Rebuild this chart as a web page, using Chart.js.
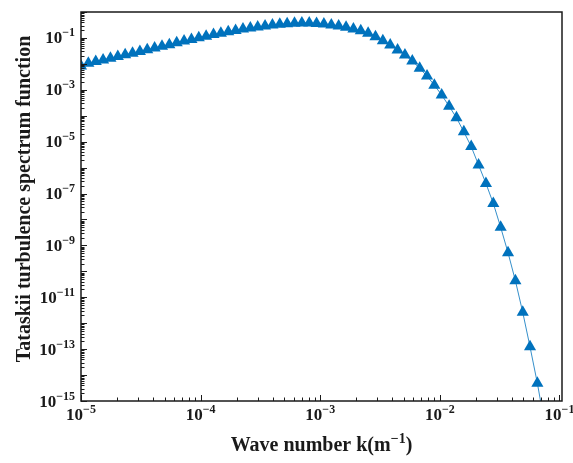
<!DOCTYPE html>
<html>
<head>
<meta charset="utf-8">
<script src="https://cdn.jsdelivr.net/npm/chart.js@4.4.1/dist/chart.umd.min.js"></script>
<style>
  html, body { margin: 0; padding: 0; background: #fff; }
</style>
</head>
<body>
<canvas id="spectrumChart" width="573" height="463"></canvas>
<script>
// wave number k (1/m) (evenly spaced on the log axis)
const waveNumber = [
  1.000e-5, 1.152e-5, 1.328e-5, 1.530e-5, 1.763e-5, 2.031e-5, 2.340e-5, 2.697e-5,
  3.107e-5, 3.580e-5, 4.125e-5, 4.754e-5, 5.477e-5, 6.311e-5, 7.272e-5, 8.380e-5,
  9.652e-5, 1.112e-4, 1.282e-4, 1.477e-4, 1.702e-4, 1.961e-4, 2.260e-4, 2.604e-4,
  3.000e-4, 3.457e-4, 3.984e-4, 4.590e-4, 5.289e-4, 6.095e-4, 7.023e-4, 8.092e-4,
  9.316e-4, 1.073e-3, 1.238e-3, 1.426e-3, 1.644e-3, 1.894e-3, 2.182e-3, 2.515e-3,
  2.897e-3, 3.338e-3, 3.847e-3, 4.432e-3, 5.107e-3, 5.885e-3, 6.781e-3, 7.813e-3,
  8.994e-3, 1.036e-2, 1.195e-2, 1.377e-2, 1.587e-2, 1.829e-2, 2.107e-2, 2.428e-2,
  2.798e-2, 3.224e-2, 3.715e-2, 4.280e-2, 4.932e-2, 5.673e-2, 6.537e-2, 7.533e-2
];

// Tatarskii turbulence spectrum values
const spectrum = [
  8.32e-3, 1.05e-2, 1.23e-2, 1.41e-2, 1.66e-2, 1.91e-2, 2.24e-2, 2.57e-2,
  3.02e-2, 3.47e-2, 4.07e-2, 4.79e-2, 5.50e-2, 6.46e-2, 7.59e-2, 8.71e-2,
  0.102, 0.117, 0.135, 0.151, 0.174, 0.195, 0.219, 0.240,
  0.263, 0.288, 0.316, 0.339, 0.355, 0.372, 0.380, 0.380,
  0.363, 0.347, 0.316, 0.288, 0.257, 0.219, 0.191, 0.151,
  0.112, 7.76e-2, 5.37e-2, 3.39e-2, 2.19e-2, 1.29e-2, 6.76e-3, 3.39e-3,
  1.51e-3, 6.31e-4, 2.34e-4, 8.32e-5, 2.40e-5, 6.46e-6, 1.26e-6, 2.45e-7,
  4.17e-8, 5.01e-9, 5.25e-10, 4.37e-11, 2.63e-12, 1.23e-13, 4.79e-15, 1.26e-16
];

// tick labels are 10^exp
const xLabelExps = [-5, -4, -3, -2, -1];
const yLabelExps = [-1, -3, -5, -7, -9, -11, -13, -15];

const xTitle = 'Wave number k(m';
const xTitleSup = '\u22121';
const xTitleEnd = ')';
const yTitle = 'Tataskii turbulence spectrum function';

const BLUE = '#0072BD';
const INK = '#1a1a1a';
const SERIF = '"Liberation Serif", "Times New Roman", serif';

function drawPow(ctx, exp, x, baseY, align) {
  const base = '10';
  const sup = '\u2212' + Math.abs(exp);
  ctx.font = 'bold 17px ' + SERIF;
  const wb = ctx.measureText(base).width;
  ctx.font = 'bold 12px ' + SERIF;
  const ws = ctx.measureText(sup).width;
  const total = wb + ws;
  let left = x;
  if (align === 'right') left = x - total;
  if (align === 'center') left = x - total / 2;
  ctx.textAlign = 'left';
  ctx.textBaseline = 'alphabetic';
  ctx.font = 'bold 17px ' + SERIF;
  ctx.fillText(base, left, baseY);
  ctx.font = 'bold 12px ' + SERIF;
  ctx.fillText(sup, left + wb, baseY - 7);
}

const axesPlugin = {
  id: 'axesPlugin',
  afterDraw(chart) {
    const { ctx, chartArea: a, scales } = chart;
    const xs = scales.x, ys = scales.y;
    ctx.save();
    ctx.strokeStyle = INK;
    ctx.fillStyle = INK;

    // inward ticks on left and bottom
    ctx.lineWidth = 1;
    ctx.beginPath();
    for (let e = -5; e <= -1; e++) {
      for (let m = 1; m <= 9; m++) {
        const v = m * Math.pow(10, e);
        if (v < xs.min || v > xs.max) continue;
        const px = Math.round(xs.getPixelForValue(v)) + 0.5;
        const len = m === 1 ? 6 : 3.5;
        ctx.moveTo(px, a.bottom);
        ctx.lineTo(px, a.bottom - len);
      }
    }
    for (let e = -15; e <= 0; e++) {
      for (let m = 1; m <= 9; m++) {
        const v = m * Math.pow(10, e);
        if (v < ys.min || v > ys.max) continue;
        const py = Math.round(ys.getPixelForValue(v)) + 0.5;
        const len = m === 1 ? 6 : 3.5;
        ctx.moveTo(a.left, py);
        ctx.lineTo(a.left + len, py);
      }
    }
    ctx.stroke();

    // box
    ctx.lineWidth = 1.5;
    ctx.strokeRect(a.left, a.top, a.right - a.left, a.bottom - a.top);

    // tick labels
    xLabelExps.forEach(e => {
      drawPow(ctx, e, xs.getPixelForValue(Math.pow(10, e)), a.bottom + 19, 'center');
    });
    yLabelExps.forEach(e => {
      drawPow(ctx, e, a.left - 6, ys.getPixelForValue(Math.pow(10, e)) + 5.5, 'right');
    });

    // x title with superscript
    ctx.font = 'bold 20px ' + SERIF;
    const w1 = ctx.measureText(xTitle).width;
    const w3 = ctx.measureText(xTitleEnd).width;
    ctx.font = 'bold 14px ' + SERIF;
    const w2 = ctx.measureText(xTitleSup).width;
    let tx = (a.left + a.right) / 2 - (w1 + w2 + w3) / 2;
    const ty = 451;
    ctx.textAlign = 'left';
    ctx.textBaseline = 'alphabetic';
    ctx.font = 'bold 20px ' + SERIF;
    ctx.fillText(xTitle, tx, ty);
    ctx.font = 'bold 14px ' + SERIF;
    ctx.fillText(xTitleSup, tx + w1, ty - 8);
    ctx.font = 'bold 20px ' + SERIF;
    ctx.fillText(xTitleEnd, tx + w1 + w2, ty);

    // y title
    ctx.translate(30, 199);
    ctx.rotate(-Math.PI / 2);
    ctx.textAlign = 'center';
    ctx.font = 'bold 20px ' + SERIF;
    ctx.fillText(yTitle, 0, 0);
    ctx.restore();
  }
};

const points = waveNumber.map((k, i) => ({ x: k, y: spectrum[i] }));

new Chart(document.getElementById('spectrumChart').getContext('2d'), {
  type: 'line',
  data: {
    datasets: [{
      data: points,
      borderColor: BLUE,
      borderWidth: 0.8,
      backgroundColor: BLUE,
      pointStyle: 'triangle',
      pointRadius: 7,
      pointBorderWidth: 0,
      pointBackgroundColor: BLUE,
      tension: 0,
      fill: false
    }]
  },
  options: {
    responsive: false,
    animation: false,
    devicePixelRatio: 1,
    layout: { padding: { left: 0, right: 11, top: 12, bottom: 0 } },
    plugins: { legend: { display: false }, tooltip: { enabled: false } },
    scales: {
      x: {
        type: 'logarithmic',
        min: 1e-5,
        max: 0.105,
        grid: { display: false },
        border: { display: false },
        ticks: { display: false },
        afterFit: s => { s.height = 62; }
      },
      y: {
        type: 'logarithmic',
        min: 1e-15,
        max: 1,
        grid: { display: false },
        border: { display: false },
        ticks: { display: false },
        afterFit: s => { s.width = 81; }
      }
    }
  },
  plugins: [axesPlugin]
});
</script>
</body>
</html>
